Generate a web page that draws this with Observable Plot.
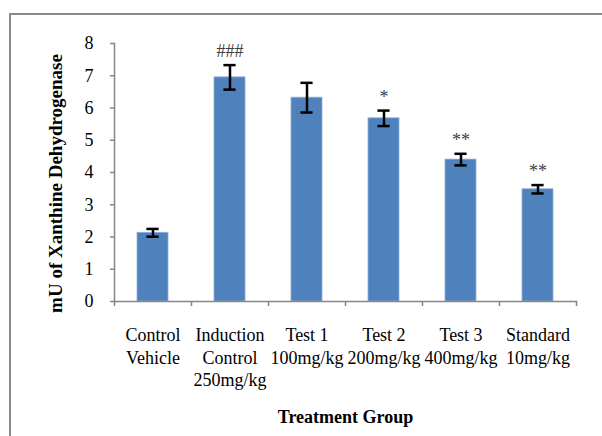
<!DOCTYPE html>
<html><head><meta charset="utf-8">
<script src="https://cdn.jsdelivr.net/npm/d3@7"></script>
<script src="https://cdn.jsdelivr.net/npm/@observablehq/plot@0.6"></script>
<style>
html,body{margin:0;padding:0;background:#fff;overflow:hidden;width:602px;height:436px;}
#frame{position:absolute;left:9px;top:13px;width:700px;height:600px;border:2px solid #8a8a8a;}
#chart{position:absolute;left:0;top:0;}
</style></head><body><div id="frame"></div><div id="chart"></div>
<script>
const groups = ["Control Vehicle","Induction Control","Test 1","Test 2","Test 3","Standard"];
const tickLabels = ["Control\nVehicle","Induction\nControl\n250mg/kg","Test 1\n100mg/kg","Test 2\n200mg/kg","Test 3\n400mg/kg","Standard\n10mg/kg"];
const means = [2.13, 6.95, 6.32, 5.68, 4.40, 3.48];
const errors = [0.12, 0.38, 0.46, 0.24, 0.18, 0.13];
const signif = ["", "###", "", "*", "**", "**"];
const yTicks = [0,1,2,3,4,5,6,7,8];
const yTitle = "mU of Xanthine Dehydrogenase";
const xTitle = "Treatment Group";

const data = groups.map((g,i)=>({group:g, label:tickLabels[i], mean:means[i], err:errors[i], sig:signif[i]}));

const W = 602, H = 436, mL = 114, mR = 26, mT = 43, mB = 135;
const step = (W - mL - mR) / groups.length;
const bw = step * 0.4;
const capInset = (bw - 12) / 2;
const axisColor = "#868686";

const chart = Plot.plot({
  width: W, height: H,
  marginLeft: mL, marginRight: mR, marginTop: mT, marginBottom: mB,
  style: {fontFamily: "'Liberation Serif', 'Times New Roman', serif", fontSize: "18px", background: "transparent", overflow: "visible"},
  x: {domain: groups, paddingInner: 0.6, paddingOuter: 0.3, axis: null},
  y: {domain: [0, 8], axis: null},
  marks: [
    Plot.barY(data, {x: "group", y: "mean", fill: "#4f81bd", stroke: "#8fb0dc", strokeWidth: 0.8}),
    Plot.frame({anchor: "left", stroke: axisColor, strokeWidth: 1.5}),
    Plot.frame({anchor: "bottom", stroke: axisColor, strokeWidth: 1.5}),
    Plot.axisY({ticks: yTicks, tickSize: 4, tickPadding: 17, stroke: axisColor, fill: "black", fontSize: 18, label: null, strokeWidth: 1.5}),
    Plot.axisX({ticks: groups, tickSize: 5, text: null, stroke: axisColor, strokeWidth: 1.5, dx: -step/2, label: null}),
    Plot.axisX({ticks: [groups[groups.length-1]], tickSize: 5, text: null, stroke: axisColor, strokeWidth: 1.5, dx: step/2, label: null}),
    Plot.ruleX(data, {x: "group", y1: d => d.mean - d.err, y2: d => d.mean + d.err, stroke: "black", strokeWidth: 2.5}),
    Plot.tickY(data, {x: "group", y: d => d.mean + d.err, inset: capInset, stroke: "black", strokeWidth: 2.5}),
    Plot.tickY(data, {x: "group", y: d => d.mean - d.err, inset: capInset, stroke: "black", strokeWidth: 2.5}),
    Plot.text(data, {x: "group", y: d => d.mean + d.err, text: "sig", lineAnchor: "bottom", dy: -8, fontSize: 18, fill: "#404040"}),
    Plot.text(data, {x: "group", y: 0, text: "label", lineAnchor: "top", dy: 24, fontSize: 18, lineHeight: 1.24, fill: "black"}),
    Plot.text([yTitle], {text: d => d, frameAnchor: "left", textAnchor: "middle", rotate: -90, dx: -59, dy: 11, fontWeight: "bold", fontSize: 19, fill: "black"}),
    Plot.text([xTitle], {text: d => d, frameAnchor: "bottom", dy: 121, fontWeight: "bold", fontSize: 18, fill: "black"})
  ]
});
document.getElementById("chart").appendChild(chart);
</script></body></html>
